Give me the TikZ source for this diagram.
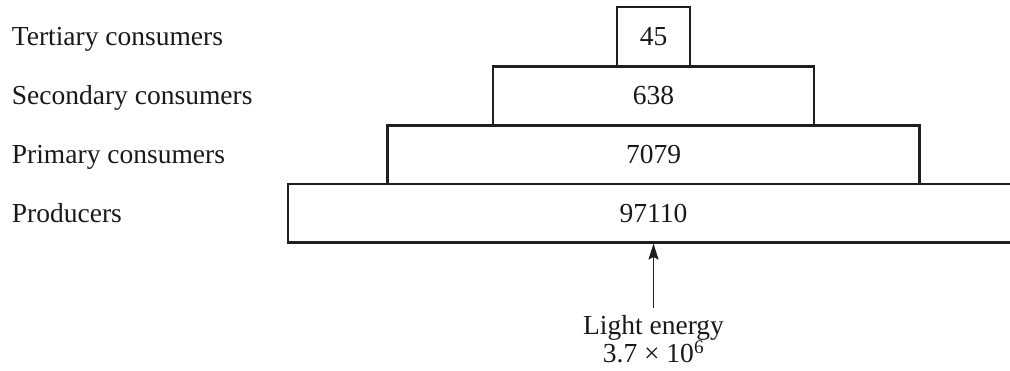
\documentclass[tikz,border=0pt]{standalone}
\usepackage{fontspec}
\setmainfont{Liberation Serif}
\usetikzlibrary{arrows.meta}
\begin{document}
\begin{tikzpicture}[x=1pt,y=-1pt,
  every node/.style={font=\fontsize{27.5}{26}\selectfont, text=black!90},
  level/.style={draw=black!88, line width=2.2pt, rectangle, inner sep=0pt, minimum height=58.5pt},
  lab/.style={anchor=base west, inner sep=0pt},
  energy/.style={-{Stealth[length=16pt,width=10pt,inset=2.5pt]}, line width=1.8pt, black!88}]
\useasboundingbox (0,0) rectangle (1010,371);
\node[level, minimum width=365.3pt*2] (prod) at (653.5,213.2) {97110};
\node[level, minimum width=532pt] (prim) at (653.5,154.7) {7079};
\node[level, minimum width=320.7pt] (sec) at (653.5,95.8) {638};
\node[level, minimum width=72.7pt] (ter) at (653.5,36.6) {45};
\node[lab] (lter) at (11.7,45.6) {Tertiary consumers};
\node[lab] (lsec) at (11.7,104.8) {Secondary consumers};
\node[lab] (lprim) at (11.7,163.7) {Primary consumers};
\node[lab] (lprod) at (11.7,222.2) {Producers};
\node[anchor=north, inner xsep=0pt, inner ysep=7pt, align=center] (light) at (653.5,308) {Light energy\\3.7 × 10\textsuperscript{6}};
\draw[energy] (light.north) -- (prod.south);
\end{tikzpicture}
\end{document}
